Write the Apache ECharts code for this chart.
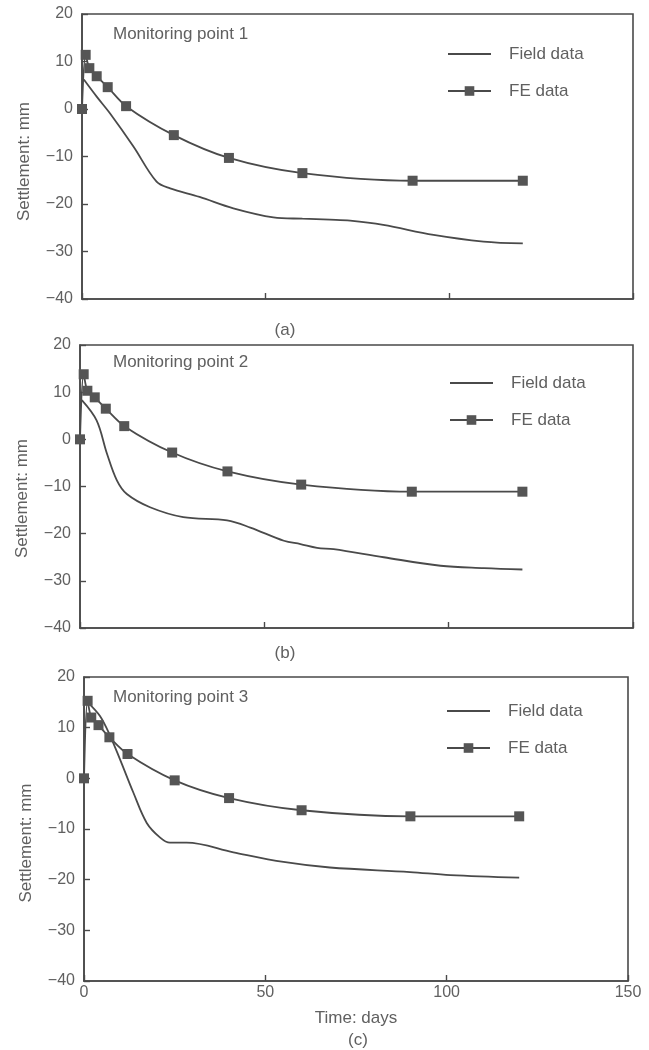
<!DOCTYPE html>
<html>
<head>
<meta charset="utf-8">
<script src="https://cdn.jsdelivr.net/npm/echarts@6/dist/echarts.min.js"></script>
<style>html,body{margin:0;padding:0;background:#fff;}#c{width:649px;height:1050px;}</style>
</head>
<body>
<div id="c"></div>
<script>
// ---- data ----
const feTime = [0, 1, 2, 4, 7, 12, 25, 40, 60, 90, 120];
const feVal1 = [0, 11.4, 8.6, 6.9, 4.6, 0.6, -5.5, -10.3, -13.5, -15.1, -15.1];
const feVal2 = [0, 13.8, 10.3, 8.9, 6.5, 2.8, -2.8, -6.8, -9.6, -11.1, -11.1];
const feVal3 = [0, 15.3, 12.0, 10.5, 8.1, 4.8, -0.4, -3.9, -6.3, -7.5, -7.5];

const fieldTime1 = [0.5, 4, 7.6, 14, 20.3, 24, 32, 41.2, 52.1, 60, 67.5, 73, 82, 95.7, 109.3, 120];
const fieldVal1  = [6.2, 2.6, -0.9, -7.9, -15.3, -16.7, -18.5, -20.9, -22.8, -23.1, -23.3, -23.5, -24.4, -26.5, -27.9, -28.3];

const fieldTime2 = [0.5, 4.5, 7.3, 10, 12.7, 19, 28, 39.9, 46.2, 55.3, 59.8, 64.3, 68.8, 82.4, 97.8, 109.6, 120];
const fieldVal2  = [8.3, 4.0, -3.0, -8.7, -11.6, -14.4, -16.5, -17.2, -18.7, -21.5, -22.2, -23.0, -23.3, -25.0, -26.8, -27.3, -27.6];

const fieldTime3 = [1, 4.4, 7.2, 9.9, 13.6, 17.3, 21, 23.7, 28.3, 41.2, 55, 67.8, 89.9, 101, 120];
const fieldVal3  = [15.0, 12.3, 8.4, 3.8, -2.8, -8.8, -11.7, -12.7, -12.7, -14.6, -16.5, -17.6, -18.5, -19.1, -19.6];

const panelTitles = ['Monitoring point 1', 'Monitoring point 2', 'Monitoring point 3'];
const captions = ['(a)', '(b)', '(c)'];
const seriesNames = ['Field data', 'FE data'];
const xName = 'Time: days';
const yName = 'Settlement: mm';

// ---- chart ----
const txt = '#606060';
const ink = '#4a4a4a';
const font = 'Liberation Sans, Arial, sans-serif';
const zip = (a, b) => a.map((v, i) => [v, b[i]]);

const grids = [
  {left: 82, top: 14, width: 551, height: 285},
  {left: 80, top: 345, width: 553, height: 283},
  {left: 84, top: 677, width: 544, height: 304}
];
const namePad = [10, 24, 28];

const option = {
  backgroundColor: '#fff',
  animation: false,
  textStyle: {fontFamily: font},
  grid: grids.map(g => Object.assign({show: true, borderColor: ink, borderWidth: 1.6, backgroundColor: 'transparent', outerBoundsMode: 'none'}, g)),
  xAxis: grids.map((g, i) => ({
    type: 'value', gridIndex: i, min: 0, max: 150, interval: 50,
    axisLine: {show: true, onZero: false, lineStyle: {color: ink, width: 1.6}},
    axisTick: {show: true, inside: true, length: 6, lineStyle: {color: ink, width: 1.4}},
    axisLabel: {show: i === 2, color: txt, fontSize: 16, fontFamily: font, margin: 4},
    splitLine: {show: false},
    name: i === 2 ? xName : '', nameLocation: 'middle', nameGap: 29,
    nameTextStyle: {color: txt, fontSize: 17, fontFamily: font}
  })),
  yAxis: grids.map((g, i) => ({
    type: 'value', gridIndex: i, min: -40, max: 20, interval: 10,
    axisLine: {show: true, onZero: false, lineStyle: {color: ink, width: 1.6}},
    axisTick: {show: true, inside: true, length: 6, lineStyle: {color: ink, width: 1.4}},
    axisLabel: {color: txt, fontSize: 16, fontFamily: font, margin: 9,
      formatter: v => String(v).replace('-', '\u2212')},
    splitLine: {show: false},
    name: yName, nameLocation: 'middle', nameGap: 49, nameRotate: 90,
    nameTextStyle: {color: txt, fontSize: 17, fontFamily: font, padding: [0, namePad[i], 0, 0]}
  })),
  title: [
    {text: panelTitles[0], left: 113, top: 26},
    {text: panelTitles[1], left: 113, top: 354},
    {text: panelTitles[2], left: 113, top: 689},
    {text: captions[0], left: 285, top: 322, textAlign: 'center'},
    {text: captions[1], left: 285, top: 645, textAlign: 'center'},
    {text: captions[2], left: 358, top: 1032, textAlign: 'center'}
  ].map(t => Object.assign({padding: 0, textStyle: {color: txt, fontSize: 17, fontWeight: 'normal', fontFamily: font}}, t)),
  legend: [
    {left: 447, top: 44},
    {left: 449, top: 373},
    {left: 446, top: 701}
  ].map(l => Object.assign({
    orient: 'vertical',
    data: [{name: seriesNames[0], itemStyle: {opacity: 0}}, {name: seriesNames[1]}],
    itemWidth: 43, itemHeight: 12, itemGap: 17,
    padding: 0, selectedMode: false,
    textStyle: {color: txt, fontSize: 17, fontFamily: font, padding: [0, 0, 0, 13], lineHeight: 20}
  }, l)),
  series: []
};

const fieldSets = [zip(fieldTime1, fieldVal1), zip(fieldTime2, fieldVal2), zip(fieldTime3, fieldVal3)];
const feSets = [zip(feTime, feVal1), zip(feTime, feVal2), zip(feTime, feVal3)];
for (let i = 0; i < 3; i++) {
  option.series.push({
    name: seriesNames[0], type: 'line', xAxisIndex: i, yAxisIndex: i,
    data: fieldSets[i], smooth: 0.35, symbol: 'none',
    lineStyle: {color: ink, width: 1.8}, itemStyle: {color: ink}
  });
  option.series.push({
    name: seriesNames[1], type: 'line', xAxisIndex: i, yAxisIndex: i,
    data: feSets[i], smooth: 0.3, symbol: 'rect', symbolSize: 10,
    lineStyle: {color: ink, width: 1.8}, itemStyle: {color: '#555', borderWidth: 0}
  });
}

const chart = echarts.init(document.getElementById('c'), null, {renderer: 'canvas'});
chart.setOption(option);
</script>
</body>
</html>
